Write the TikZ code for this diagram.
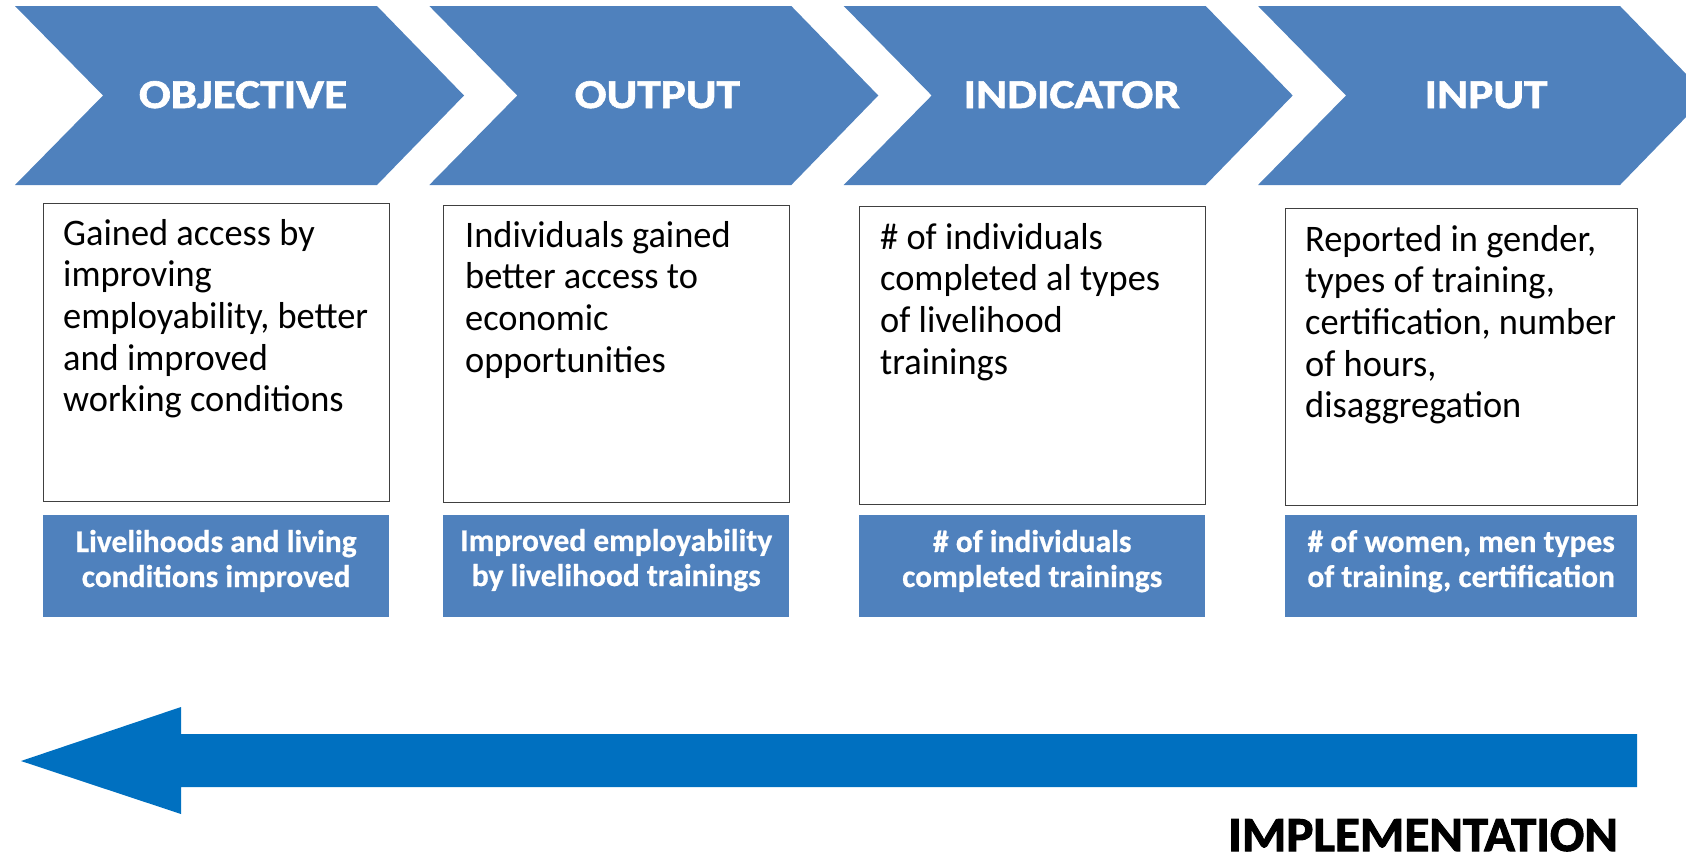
\documentclass[tikz,border=0pt]{standalone}
\usepackage{fontspec}
\setmainfont{Carlito}
\newfontfamily\headfont{Carlito}[FakeStretch=1.15,FakeBold=1.5]
\newfontfamily\bodyfont{Carlito}[FakeStretch=0.97]
\newfontfamily\labfont{Carlito}[FakeBold=0.6]
\newfontfamily\implfont{Carlito}[FakeStretch=1.04,FakeBold=2]
\definecolor{chev}{HTML}{4F81BD}
\definecolor{arr}{HTML}{0070C0}
\begin{document}
\begin{tikzpicture}[x=1pt,y=-1pt,
  chevshape/.style={fill=chev,draw=none},
  headtxt/.style={text=white,anchor=base,inner sep=0pt,font=\headfont\bfseries\fontsize{41}{41}\selectfont},
  bodybox/.style={draw=black!75,line width=1.3pt,fill=white,anchor=north west,inner sep=0pt},
  bodytxt/.style={anchor=base west,inner sep=0pt,font=\bodyfont\fontsize{37.5}{41.7}\selectfont},
  labbox/.style={fill=chev,draw=none,anchor=north west,inner sep=0pt,minimum height=102pt},
  labtxt/.style={anchor=base west,inner sep=0pt,text=white,font=\labfont\bfseries\fontsize{31.5}{35}\selectfont},
  arrshape/.style={fill=arr,draw=none},
  impltxt/.style={anchor=base,inner sep=0pt,font=\implfont\bfseries\fontsize{49}{49}\selectfont}]
\useasboundingbox (0,0) rectangle (1686,857);
\clip (0,0) rectangle (1686,857);
% chevrons
\foreach \xo in {15,429.3,843.7,1258}{
  \fill[chevshape] (\xo,6) -- (\xo+362,6) -- (\xo+449,95.5) -- (\xo+362,185) -- (\xo,185) -- (\xo+88,95.5) -- cycle;
}
\node[headtxt] (h1) at (243,108) {OBJECTIVE};
\node[headtxt] (h2) at (657.3,108) {OUTPUT};
\node[headtxt] (h3) at (1071.7,108) {INDICATOR};
\node[headtxt] (h4) at (1486,108) {INPUT};
% body boxes
\node[bodybox,minimum width=346pt,minimum height=298pt] (b1) at (43,203) {};
\node[bodybox,minimum width=346pt,minimum height=297pt] (b2) at (443,205) {};
\node[bodybox,minimum width=346pt,minimum height=298pt] (b3) at (859,206) {};
\node[bodybox,minimum width=352pt,minimum height=297pt] (b4) at (1285,208) {};
\node[bodytxt] (t1) at (63,245) {\parbox[t]{320pt}{\raggedright Gained access by\\improving\\employability, better\\and improved\\working conditions}};
\node[bodytxt] (t2) at (465,247) {\parbox[t]{320pt}{\raggedright Individuals gained\\better access to\\economic\\opportunities}};
\node[bodytxt] (t3) at (880,249) {\parbox[t]{320pt}{\raggedright \# of individuals\\completed al types\\of livelihood\\trainings}};
\node[bodytxt] (t4) at (1305,251) {\parbox[t]{330pt}{\raggedright Reported in gender,\\types of training,\\certification, number\\of hours,\\disaggregation}};
% label boxes
\node[labbox,minimum width=346pt] (l1) at (43,515) {};
\node[labbox,minimum width=346pt] (l2) at (443,515) {};
\node[labbox,minimum width=346pt] (l3) at (859,515) {};
\node[labbox,minimum width=352pt] (l4) at (1285,515) {};
\node[labtxt] (lt1) at (43,552) {\parbox[t]{346pt}{\centering Livelihoods and living\\conditions improved}};
\node[labtxt] (lt2) at (443,551) {\parbox[t]{346pt}{\centering Improved employability\\by livelihood trainings}};
\node[labtxt] (lt3) at (859,552) {\parbox[t]{346pt}{\centering \# of individuals\\completed trainings}};
\node[labtxt] (lt4) at (1285,552) {\parbox[t]{352pt}{\centering \# of women, men types\\of training, certification}};
% implementation arrow
\fill[arrshape] (21,761) -- (181,707) -- (181,734) -- (1637,734) -- (1637,787) -- (181,787) -- (181,814) -- cycle;
\node[impltxt] (impl) at (1423,851) {IMPLEMENTATION};
\end{tikzpicture}
\end{document}
